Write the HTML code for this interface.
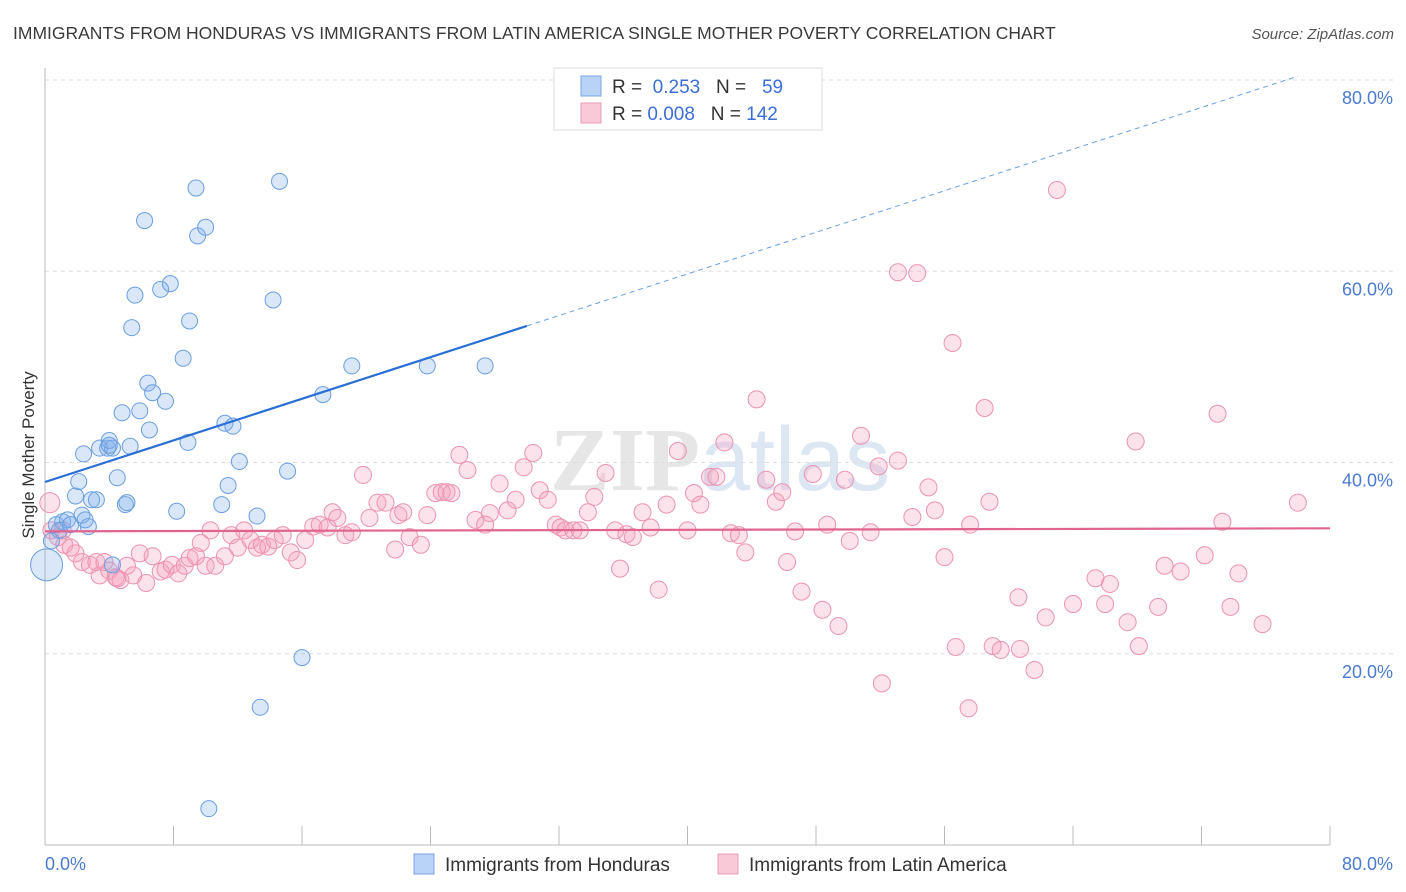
<!DOCTYPE html>
<html><head><meta charset="utf-8">
<style>
body{margin:0;background:#fff;font-family:"Liberation Sans",sans-serif;}
svg{display:block}
</style></head>
<body>
<svg id="chart" width="1406" height="892" xmlns="http://www.w3.org/2000/svg">
<text x="13" y="39" font-size="17.5" fill="#3a3a3a">IMMIGRANTS FROM HONDURAS VS IMMIGRANTS FROM LATIN AMERICA SINGLE MOTHER POVERTY CORRELATION CHART</text>
<text x="1394" y="39" font-size="15" fill="#555" font-style="italic" text-anchor="end">Source: ZipAtlas.com</text>
<text x="720" y="490" font-size="90" fill="#e6e6e6" text-anchor="middle" font-family="Liberation Serif, serif" font-weight="bold">ZIP<tspan fill="#dde6f3" font-family="Liberation Sans, sans-serif" font-weight="normal">atlas</tspan></text>
<g id="grid"></g>
<g id="axes"></g>
<g id="pts"></g>
<g id="lines"></g>
<text transform="translate(34,455) rotate(-90)" font-size="17" fill="#333" text-anchor="middle">Single Mother Poverty</text>
<g>
<rect x="554" y="68" width="268" height="62" fill="#fff" stroke="#ddd"/>
<rect x="581" y="76" width="20" height="20" fill="#b8d3f5" stroke="#7aa6e3"/>
<rect x="581" y="103" width="20" height="20" fill="#f9c9d8" stroke="#ec9bb5"/>
<text x="612" y="93" font-size="19" fill="#333">R = <tspan fill="#3b6fd6">&#160;0.253</tspan>&#160;&#160;&#160;N = <tspan fill="#3b6fd6">&#160;&#160;59</tspan></text>
<text x="612" y="120" font-size="19" fill="#333">R = <tspan fill="#3b6fd6">0.008</tspan>&#160;&#160;&#160;N = <tspan fill="#3b6fd6">142</tspan></text>
</g>
<g>
<rect x="414" y="854" width="20" height="20" fill="#b8d3f5" stroke="#7aa6e3"/>
<text x="445" y="871" font-size="19" fill="#333">Immigrants from Honduras</text>
<rect x="718" y="854" width="20" height="20" fill="#f9c9d8" stroke="#ec9bb5"/>
<text x="749" y="871" font-size="19" fill="#333">Immigrants from Latin America</text>
</g>
</svg>
<script>
const yTicks=[20,40,60,80];
const yTickLabels=["20.0%","40.0%","60.0%","80.0%"];
const xTickCount=10;
const xLabels=["0.0%","80.0%"];
const hondX=[0.1,0.4,0.7,1.1,1.4,1.9,2.1,2.4,2.3,2.7,2.9,3.2,3.4,3.9,4.0,4.2,4.5,4.8,5.0,5.1,5.4,5.6,5.9,6.2,6.4,6.5,6.7,7.2,7.5,7.8,8.2,8.6,8.9,9.0,9.4,9.5,10.0,10.2,11.0,11.2,11.4,11.7,12.1,13.2,13.4,14.2,14.6,15.1,16.0,17.3,19.1,23.8,27.4,4.2,5.3,0.9,1.6,2.5,4.0];
const hondY=[29.3,31.8,33.5,33.8,34.0,36.5,38.0,40.9,34.5,33.3,36.1,36.1,41.5,41.5,42.3,41.5,38.4,45.2,35.6,35.8,54.1,57.5,45.4,65.3,48.3,43.4,47.3,58.1,46.4,58.7,34.9,50.9,42.1,54.8,68.7,63.7,64.6,3.8,35.6,44.1,37.6,43.8,40.1,34.4,14.4,57.0,69.4,39.1,19.6,47.1,50.1,50.1,50.1,29.3,41.7,32.9,33.5,34.0,41.8];
const latX=[0.3,0.4,0.8,1.2,1.6,1.9,2.3,2.8,3.2,3.4,3.7,4.0,4.4,4.7,5.1,5.5,5.9,6.3,6.7,7.2,7.5,7.9,8.3,8.7,9.0,9.4,9.7,10.0,10.3,10.6,11.2,11.6,12.0,12.4,12.8,13.2,13.5,13.9,14.3,14.8,15.3,15.7,16.2,16.7,17.1,17.6,17.9,18.2,18.7,19.1,19.8,20.2,20.7,21.2,21.8,22.0,22.3,22.7,23.4,23.8,24.3,24.7,25.0,25.3,25.8,26.3,26.8,27.4,27.7,28.3,28.8,29.3,29.8,30.4,30.8,31.3,31.8,32.1,32.4,32.9,33.3,33.8,34.2,34.9,35.5,35.8,36.2,36.6,37.2,37.7,38.2,38.7,39.4,40.0,40.4,40.8,41.4,41.8,42.3,42.7,43.2,43.6,44.3,44.9,45.5,45.9,46.2,46.7,47.1,47.8,48.4,48.7,49.4,49.8,50.1,50.8,51.4,51.9,52.1,53.1,53.1,54.0,54.3,55.0,55.4,56.0,56.5,56.7,57.5,57.6,58.5,58.8,59.0,59.5,60.6,60.7,61.6,62.3,63.0,64.0,65.4,66.0,66.3,67.4,67.9,68.1,69.3,69.7,70.7,72.2,73.0,73.3,73.8,74.3,75.8,78.0,1.1,4.5];
const latY=[35.8,32.9,32.2,31.4,31.1,30.5,29.6,29.3,29.6,28.2,29.6,28.7,28.0,27.7,29.2,28.2,30.5,27.4,30.2,28.6,28.8,29.3,28.4,29.2,30.0,30.2,31.6,29.2,32.9,29.2,30.2,32.4,31.1,32.9,31.9,31.1,31.4,31.2,31.9,32.4,30.6,29.8,31.9,33.3,33.5,33.2,34.8,34.2,32.4,32.7,38.7,34.2,35.8,35.8,30.9,34.5,34.8,32.2,31.4,34.5,36.8,36.9,36.9,36.8,40.8,39.2,34.0,33.5,34.7,37.8,35.0,36.1,39.5,41.0,37.1,36.1,33.5,33.2,32.9,32.9,32.9,34.8,36.4,38.9,32.9,28.9,32.5,32.2,34.8,33.2,26.7,35.6,41.2,32.9,36.8,35.6,38.5,38.5,42.1,32.6,32.4,30.6,46.6,38.2,35.9,36.9,29.6,32.8,26.5,38.8,24.6,33.5,22.9,38.2,31.8,42.8,32.7,39.6,16.9,59.9,40.2,34.3,59.8,37.4,35.0,30.1,52.5,20.7,14.3,33.5,45.7,35.9,20.8,20.4,25.9,20.5,18.3,23.8,68.5,25.2,27.9,25.2,27.3,23.3,42.2,20.8,24.9,29.2,28.6,30.3,45.1,33.8,24.9,28.4,23.1,35.8,32.9,27.9];
const hondTrend=[37.96,0.544];
const latTrend=[32.8,0.004];
const X0=45,X1=1330,Y0=845,Y80=80;
const sx=v=>X0+(X1-X0)*v/80;
const sy=v=>Y0-(Y0-Y80)*v/80;
const NS="http://www.w3.org/2000/svg";
function mk(tag,attrs,parent){const e=document.createElementNS(NS,tag);for(const k in attrs)e.setAttribute(k,attrs[k]);parent.appendChild(e);return e;}
const grid=document.getElementById('grid'),axes=document.getElementById('axes'),pts=document.getElementById('pts'),lines=document.getElementById('lines');
yTicks.forEach((t,i)=>{
  const g=mk('line',{x1:X0,x2:1393,y1:sy(t),y2:sy(t),stroke:'#ddd','stroke-dasharray':'4,4'},grid);
  
  
  const tx=mk('text',{x:1393,y:sy(t)+24,'font-size':18,fill:'#4a7bd0','text-anchor':'end'},axes);
  tx.textContent=yTickLabels[i];
  
  
});
const ya=mk('line',{x1:X0,x2:X0,y1:68,y2:Y0,stroke:'#bbb'},axes);


const xa=mk('line',{x1:X0,x2:X1,y1:Y0,y2:Y0,stroke:'#bbb'},axes);


for(let i=1;i<=xTickCount;i++){
  const v=80*i/xTickCount;
  const t=mk('line',{x1:sx(v),x2:sx(v),y1:826,y2:Y0,stroke:'#bbb'},axes);
  
  
}
const xl0=mk('text',{x:45,y:870,'font-size':18,fill:'#4a7bd0'},axes);xl0.textContent=xLabels[0];


const xl1=mk('text',{x:1393,y:870,'font-size':18,fill:'#4a7bd0','text-anchor':'end'},axes);xl1.textContent=xLabels[1];


latX.forEach((x,i)=>{
  const c=mk('circle',{cx:sx(x),cy:sy(latY[i]),r:i===0?10:8.5,fill:'rgba(244,160,188,0.3)',stroke:'#ec93b0','stroke-width':1},pts);
  
  
});
hondX.forEach((x,i)=>{
  const c=mk('circle',{cx:sx(x),cy:sy(hondY[i]),r:i===0?16:8,fill:'rgba(130,175,235,0.3)',stroke:'#6a9ee0','stroke-width':1},pts);
  
  
});
const hl=mk('line',{x1:sx(0),y1:sy(hondTrend[0]),x2:sx(30),y2:sy(hondTrend[0]+hondTrend[1]*30),stroke:'#2a6fd6','stroke-width':2.2},lines);


const hd=mk('line',{x1:sx(30),y1:sy(hondTrend[0]+hondTrend[1]*30),x2:sx(78),y2:sy(hondTrend[0]+hondTrend[1]*78),stroke:'#6a9ee0','stroke-width':1,'stroke-dasharray':'5,4'},lines);


const ll=mk('line',{x1:sx(0),y1:sy(latTrend[0]),x2:sx(80),y2:sy(latTrend[0]+latTrend[1]*80),stroke:'#e0648f','stroke-width':2.2},lines);


</script>
</body></html>
